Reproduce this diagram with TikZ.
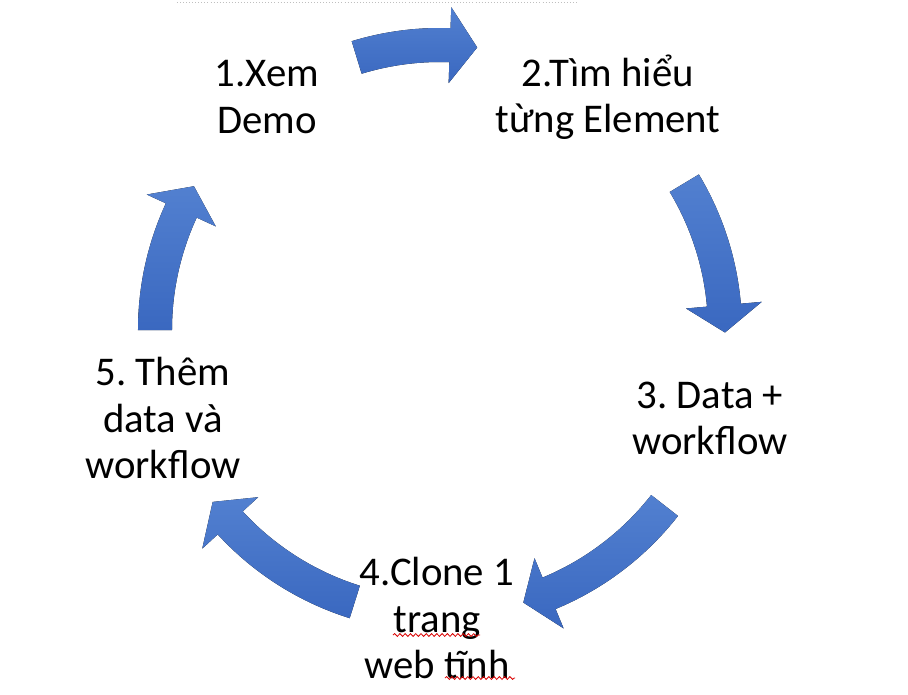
\documentclass[tikz,border=0pt]{standalone}
\usepackage{fontspec}
\setmainfont{Carlito}
\usetikzlibrary{arrows.meta,positioning,decorations.pathmorphing}
\definecolor{cyclelight}{RGB}{82,128,208}
\definecolor{cycledark}{RGB}{58,104,192}
\frenchspacing

\begin{document}
\begin{tikzpicture}[x=0.03cm, y=0.03cm,
  steptext/.style={align=center, font=\fontsize{34.8}{39.3}\selectfont, inner sep=0pt},
  cyclearrow/.style={top color=cyclelight, bottom color=cycledark, draw=none},
  spellmark/.style={red!85!black, line width=0.7pt, decorate,
    decoration={snake, amplitude=1.2pt, segment length=4.5pt}}]
  \useasboundingbox (-440,-364) rectangle (468,330);
  % faint rule at the top
  \draw[black!25, dotted, line width=0.6pt] (-263,328) -- (137,328);
  % Arrows
  \foreach \a/\b in {107/88, 31/5, -38/-67.5, 252.6/222.6, 180/155.2} {
    \pgfmathsetmacro{\t}{\b-5.5}
    \fill[cyclearrow] (\a:302) arc[start angle=\a, end angle=\b, radius=302]
      -- (\b:323) -- (\t:285) -- (\b:247) -- (\b:268)
      arc[start angle=\b, end angle=\a, radius=268] -- cycle;
  }
  % Steps
  \node[steptext] (s1) at (-173,233) {1.Xem\\Demo};
  \node[steptext] (s2) at (168,233) {2.Tìm hiểu\\từng Element};
  \node[steptext] (s3) at (270,-88) {3. Data +\\workflow};
  \node[steptext] (s4) at (-3,-288) {4.Clone 1\\trang\\web tĩnh};
  \node[steptext] (s5) at (-277,-88) {5. Thêm\\data và\\workflow};
  % spelling marks
  \draw[spellmark] (-47,-305) -- (40,-305);
  \draw[spellmark] (5,-348) -- (75,-348);
\end{tikzpicture}
\end{document}
